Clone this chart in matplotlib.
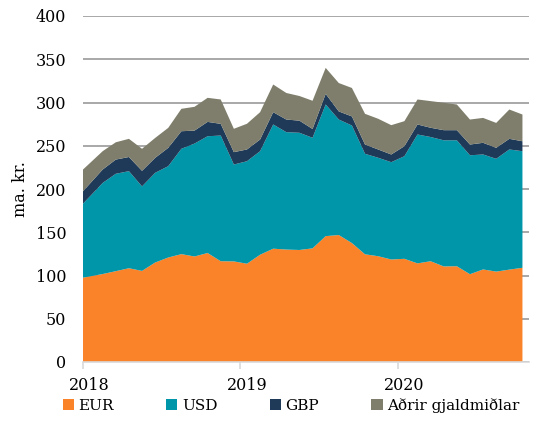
import numpy as np
import matplotlib
matplotlib.use("Agg")
import matplotlib.pyplot as plt

# monthly values, jan 2018 - okt 2020 (ma. kr.)
eur = [97.5, 101.7, 105, 108.4, 105.3, 115, 120.8, 124.7, 122, 126, 116.5, 116.3,
       113.6, 124, 131, 130, 129.5, 131.4, 145.5, 146.8, 137.5, 124.5, 122.3, 118.5,
       119.3, 114, 116.5, 110.5, 110.7, 101.5, 107, 104.5, 106.8, 108.9]
usd = [85.5, 105.3, 112.6, 112.2, 97.7, 103.7, 105.6, 121.8, 130.5, 135, 145.3, 112,
       118.5, 119.7, 143.6, 135.7, 135.5, 127.8, 152.2, 133.5, 135.9, 116.2, 113.8, 112.5,
       118.6, 149, 143.6, 145.8, 145.6, 137.5, 132.9, 130.4, 138.9, 134.8]
gbp = [14.4, 15.5, 16.4, 16.4, 18, 17.3, 21.2, 20.3, 15, 16.6, 13.5, 14.3,
       13.6, 13.5, 14.2, 14.6, 14, 10.2, 12.3, 9.4, 10.5, 10.7, 9.6, 8.9,
       11.6, 11.6, 10.7, 11.7, 11.7, 12.4, 13.5, 12.7, 12.3, 11.5]
other = [25.1, 21.2, 20, 21, 25.5, 23, 23.1, 25.9, 27.5, 27.8, 28.2, 27,
         29.7, 31.6, 32, 30.7, 28.5, 32.6, 30, 32.8, 32.9, 35.5, 35.5, 33.9,
         28.9, 28.9, 30.8, 31.7, 29.7, 28.9, 28.8, 28.8, 33.9, 30.9]
labels = ["EUR", "USD", "GBP", "Aðrir gjaldmiðlar"]
years = ["2018", "2019", "2020"]

colors = ["#FA8228", "#0096AA", "#1E3A58", "#7F7E6C"]

plt.rcParams["font.family"] = ["DejaVu Serif"]

fig = plt.figure(figsize=(5.36, 4.41), dpi=100)
ax = fig.add_axes([83 / 536, 1 - 362 / 441, 446 / 536, 346 / 441])

# points sit in the middle of each month slot, first one starts at the edge
x = np.arange(len(eur)) + 0.5
x[0] = 0.0
ax.stackplot(x, eur, usd, gbp, other, colors=colors, labels=labels, linewidth=0)

ax.set_xlim(0, 34)
ax.set_ylim(0, 400)
ax.set_yticks(np.arange(0, 401, 50))

# year ticks at slot boundaries, labels centred on january
ax.set_xticks([0, 12, 24])
ax.set_xticklabels([])
ax.set_xticks([0.5, 12.5, 24.5], minor=True)
ax.set_xticklabels(years, minor=True)

ax.set_axisbelow(True)
ax.grid(axis="y", color="#9a9a9a", linewidth=1.2)

for s in ["top", "right", "left"]:
    ax.spines[s].set_visible(False)
ax.spines["bottom"].set_color("#d9d9d9")
ax.spines["bottom"].set_linewidth(1.2)
ax.tick_params(axis="y", length=0, labelsize=11.5, pad=12)
ax.tick_params(axis="x", which="major", length=5, color="#d9d9d9", width=1.2)
ax.tick_params(axis="x", which="minor", length=0, labelsize=11.5, pad=11)

ax.set_ylabel("ma. kr.", fontsize=11.5, labelpad=5)

handles, labs = ax.get_legend_handles_labels()
fig.legend(handles, labs, loc="center", bbox_to_anchor=(0.543, 0.08), ncol=4,
           frameon=False, fontsize=11, handlelength=0.75, handleheight=0.75,
           handletextpad=0.3, columnspacing=3.4)

fig.savefig("out.png", dpi=100)
